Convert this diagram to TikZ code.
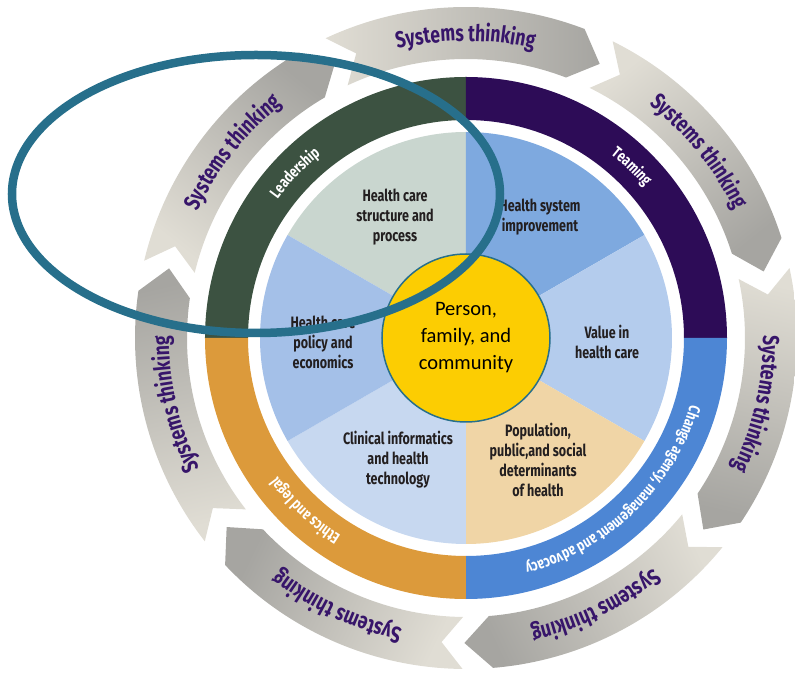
\documentclass[tikz,border=0pt]{standalone}
\usepackage{fontspec}
\setmainfont{Carlito}
\newfontfamily\condfont[FakeStretch=0.76]{Fira Sans}
\usetikzlibrary{decorations.text}

\definecolor{leadgreen}{HTML}{3C5241}
\definecolor{teampurple}{HTML}{2D0C57}
\definecolor{changeblue}{HTML}{4D86D4}
\definecolor{ethicsorange}{HTML}{DC9A3B}
\definecolor{piegreen}{HTML}{C9D6CF}
\definecolor{piemid}{HTML}{7EA9DF}
\definecolor{pielight}{HTML}{B4CCED}
\definecolor{piebeige}{HTML}{F0D5A6}
\definecolor{piepale}{HTML}{C7D8F0}
\definecolor{piesoft}{HTML}{A4C0E8}
\definecolor{coreyellow}{HTML}{FCCD02}
\definecolor{ovalteal}{HTML}{276F8B}
\definecolor{sysviolet}{HTML}{37156A}
\definecolor{arrowlight}{HTML}{E0DDD4}
\definecolor{arrowdark}{HTML}{A6A5A1}
\definecolor{labelblack}{HTML}{231F20}

\tikzset{
  pielabel/.style={align=center, text=labelblack,
    font=\condfont\bfseries\fontsize{16.5}{20}\selectfont},
  arrowshade/.style={shading=axis, top color=arrowlight,
    bottom color=arrowdark, shading angle=#1},
  systext/.style={decorate, decoration={text along path, text align=center,
    text color=sysviolet,
    text={|\condfont\bfseries\fontsize{23}{23}\selectfont|Systems thinking}}},
  ringtext/.style={decorate, decoration={text along path, text align=center,
    text color=white,
    text={|\condfont\bfseries\fontsize{16}{16}\selectfont|#1}}}
}

\begin{document}
\begin{tikzpicture}[x=1pt,y=1pt]
  \useasboundingbox (-466,-336) rectangle (329,338);

  % systems thinking arrows
  \foreach \t in {115.1,63.7,12.2,-39.2,-90.6,-142.1,-193.5}{
    \pgfmathsetmacro\h{\t-46.1}
    \pgfmathsetmacro\m{\t-25}
    \shade[arrowshade=\m] (\t:331) arc[start angle=\t, end angle=\h, radius=331]
      -- (\h-5:305) -- (\h:279) arc[start angle=\h, end angle=\t, radius=279]
      -- (\t-4:305) -- cycle;
    \path[systext] (\m+42:297) arc[start angle=\m+42, end angle=\m-42, radius=297];
  }

  % outer ring
  \fill[leadgreen] (90:261) arc[start angle=90, end angle=180, radius=261]
    -- (180:218) arc[start angle=180, end angle=90, radius=218] -- cycle;
  \fill[teampurple] (0:261) arc[start angle=0, end angle=90, radius=261]
    -- (90:218) arc[start angle=90, end angle=0, radius=218] -- cycle;
  \fill[changeblue] (270:261) arc[start angle=270, end angle=360, radius=261]
    -- (0:218) arc[start angle=360, end angle=270, radius=218] -- cycle;
  \fill[ethicsorange] (180:261) arc[start angle=180, end angle=270, radius=261]
    -- (270:218) arc[start angle=270, end angle=180, radius=218] -- cycle;

  \path[ringtext=Leadership] (166:234) arc[start angle=166, end angle=106, radius=234];
  \path[ringtext=Teaming] (76:234) arc[start angle=76, end angle=16, radius=234];
  \path[ringtext={Ethics and legal}] (262:234) arc[start angle=262, end angle=192, radius=234];
  \path[ringtext={Change agency, management and advocacy}] (4:234)
    arc[start angle=4, end angle=-96, radius=234];

  % pie
  \fill[piegreen] (0,0) -- (90:206) arc[start angle=90, end angle=150, radius=206] -- cycle;
  \fill[piemid] (0,0) -- (30:206) arc[start angle=30, end angle=90, radius=206] -- cycle;
  \fill[pielight] (0,0) -- (-30:206) arc[start angle=-30, end angle=30, radius=206] -- cycle;
  \fill[piebeige] (0,0) -- (-90:206) arc[start angle=-90, end angle=-30, radius=206] -- cycle;
  \fill[piepale] (0,0) -- (-150:206) arc[start angle=-150, end angle=-90, radius=206] -- cycle;
  \fill[piesoft] (0,0) -- (150:206) arc[start angle=150, end angle=210, radius=206] -- cycle;

  \node[pielabel] (hcs) at (-71,121) {Health care\\structure and\\process};
  \node[pielabel] (hsi) at (74,121) {Health system\\improvement};
  \node[pielabel] (vhc) at (141,-4) {Value in\\health care};
  \node[pielabel] (pps) at (72,-122) {Population,\\public,and social\\determinants\\of health};
  \node[pielabel] (cih) at (-68,-122) {Clinical informatics\\and health\\technology};
  \node[pielabel] (hcp) at (-143,-4) {Health care\\policy and\\economics};

  % centre
  \node[circle, minimum size=168pt, fill=coreyellow, draw=ovalteal, line width=1.5pt,
    align=center, font=\fontsize{20.5}{27}\selectfont, text=black] (pfc) at (0,0)
    {Person,\\family, and\\community};

  % overlay oval
  \draw[ovalteal, line width=8.5pt] (-210,144) ellipse[x radius=244, y radius=139];
\end{tikzpicture}
\end{document}
